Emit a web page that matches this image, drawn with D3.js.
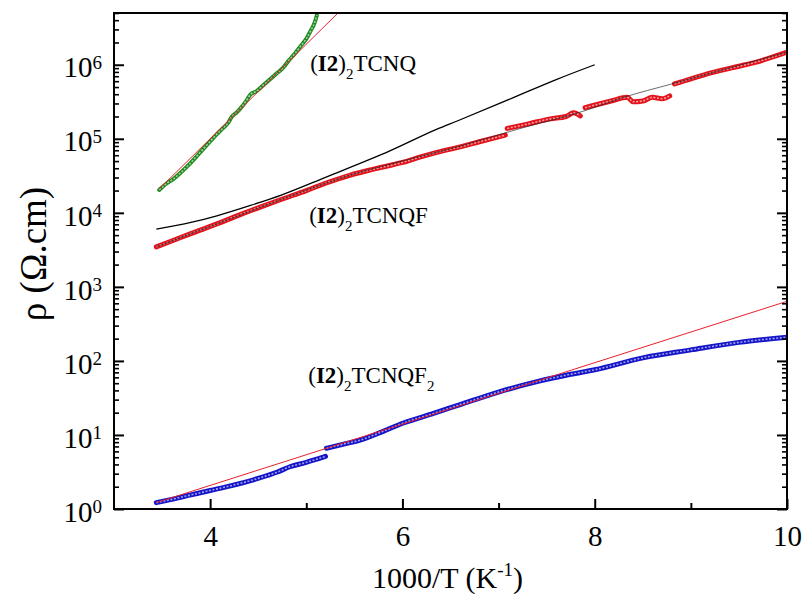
<!DOCTYPE html>
<html lang="en">
<head>
    <meta charset="UTF-8">
    <title>Resistivity vs 1000/T</title>
    <script src="https://cdnjs.cloudflare.com/ajax/libs/d3/7.8.5/d3.min.js"></script>
    <style>
    html, body {
        margin: 0;
        background: white;
    }
    svg text {
        font-family: 'Liberation Serif', 'Times New Roman', serif;
        fill: black;
    }
    </style>
</head>
<body>
    <div id="chart"></div>
    <script>
    // ---- data: [1000/T, rho (ohm.cm)] ----
    var greenData = [
        [3.47, 2.04e4], [3.55, 2.51e4], [3.62, 2.88e4], [3.70, 3.55e4], [3.78, 4.47e4],
        [3.85, 5.62e4], [3.92, 7.08e4], [3.99, 8.91e4], [4.06, 1.12e5], [4.13, 1.38e5],
        [4.19, 1.66e5], [4.22, 1.95e5], [4.28, 2.29e5], [4.34, 2.82e5], [4.38, 3.31e5],
        [4.42, 3.98e5], [4.48, 4.37e5], [4.55, 5.25e5], [4.62, 6.31e5], [4.69, 7.59e5],
        [4.76, 9.12e5], [4.82, 1.15e6], [4.88, 1.41e6], [4.94, 1.78e6], [5.00, 2.24e6],
        [5.05, 2.95e6], [5.09, 3.80e6], [5.11, 4.68e6]
    ];
    var greenFit = [[3.47, 2.1e4], [5.33, 5.0e6]];

    var redSeg1 = [
        [3.44, 3.47e3], [3.60, 4.17e3], [3.80, 5.25e3], [4.07, 7.08e3], [4.30, 9.33e3],
        [4.50, 1.17e4], [4.76, 1.55e4], [5.00, 2.0e4], [5.20, 2.51e4], [5.46, 3.24e4],
        [5.70, 3.89e4], [6.00, 4.79e4], [6.20, 5.75e4], [6.40, 6.76e4], [6.60, 7.76e4],
        [6.80, 9.12e4], [7.07, 1.12e5]
    ];
    var redSeg2 = [
        [7.09, 1.38e5], [7.30, 1.58e5], [7.54, 1.86e5], [7.70, 2.0e5], [7.78, 2.24e5], [7.85, 2.04e5]
    ];
    var redSeg3 = [
        [7.90, 2.63e5], [8.17, 3.24e5], [8.34, 3.63e5], [8.40, 3.16e5], [8.50, 3.24e5],
        [8.60, 3.63e5], [8.70, 3.47e5], [8.78, 3.80e5]
    ];
    var redSeg4 = [
        [8.83, 5.50e5], [9.00, 6.46e5], [9.24, 7.94e5], [9.50, 9.55e5], [9.66, 1.07e6], [10.0, 1.48e6]
    ];
    var redFitA = [
        [3.44, 6.03e3], [3.80, 7.41e3], [4.07, 9.12e3], [4.42, 1.26e4], [4.74, 1.74e4],
        [5.20, 3.02e4], [5.875, 6.92e4], [6.36, 1.35e5], [6.57, 1.74e5], [7.16, 3.63e5],
        [7.60, 6.31e5], [8.00, 1.0e6]
    ];
    var redFitB = [
        [3.44, 3.47e3], [4.07, 7.08e3], [4.76, 1.55e4], [5.46, 3.24e4], [6.00, 5.01e4],
        [6.60, 7.94e4], [7.20, 1.35e5], [7.90, 2.40e5], [8.30, 3.63e5], [8.80, 5.50e5],
        [10.0, 1.48e6]
    ];

    var blueSeg1 = [
        [3.44, 1.22], [3.60, 1.35], [3.80, 1.55], [4.00, 1.78], [4.20, 2.04],
        [4.49, 2.57], [4.70, 3.16], [4.83, 3.72], [5.00, 4.27], [5.20, 5.13]
    ];
    var blueSeg2 = [
        [5.21, 6.61], [5.40, 7.59], [5.56, 8.51], [5.80, 11.2], [6.01, 14.5],
        [6.30, 19.1], [6.60, 25.7], [7.00, 38.0], [7.40, 52.5], [7.75, 66.0],
        [8.00, 75.9], [8.50, 110], [9.00, 141], [9.50, 178], [10.0, 209]
    ];
    var blueFit = [[3.44, 1.22], [10.0, 638]];

    var xTicksMajor = [4, 6, 8, 10];
    var xTicksMinor = [5, 7, 9];
    var yTicksMajor = [1, 1e1, 1e2, 1e3, 1e4, 1e5, 1e6];
    var yTicksMinor = [];
    yTicksMajor.forEach(function(d){
        for (var k = 2; k <= 9; k++) {
            if (d * k <= 5e6) yTicksMinor.push(d * k);
        }
    });

    var compoundLabels = ['TCNQ', 'TCNQF', 'TCNQF'];

    // ---- layout ----
    var width = 811;
    var height = 594;

    var margin = {
        top: 13,
        bottom: 85,
        left: 114,
        right: 24
    };

    var svg = d3.select('#chart')
        .append('svg')
            .attr('width', width)
            .attr('height', height);

    var g = svg.append('g')
        .attr('transform', 'translate(' + margin.left + ',' + margin.top + ')');

    var w = width - margin.left - margin.right;
    var h = height - margin.top - margin.bottom;

    var x = d3.scaleLinear()
        .domain([3, 10])
        .range([0, w]);

    var y = d3.scaleLog()
        .domain([1, 5e6])
        .range([h, 0]);

    svg.append('defs').append('clipPath')
        .attr('id', 'plotclip')
        .append('rect')
            .attr('x', margin.left)
            .attr('y', margin.top)
            .attr('width', w)
            .attr('height', h);

    var line = d3.line()
        .x(function(d){ return x(d[0]); })
        .y(function(d){ return y(d[1]); });

    var smooth = d3.line()
        .curve(d3.curveMonotoneX)
        .x(function(d){ return x(d[0]); })
        .y(function(d){ return y(d[1]); });

    var plot = g.append('g')
        .attr('clip-path', 'url(#plotclip)')
        .attr('transform', 'translate(' + (-margin.left) + ',' + (-margin.top) + ')')
        .append('g')
            .attr('transform', 'translate(' + margin.left + ',' + margin.top + ')');

    // open-circle style band for measured points
    function drawSeries(segs, color, bandWidth) {
        segs.forEach(function(seg){
            plot.append('path')
                .datum(seg)
                .attr('fill', 'none')
                .attr('stroke', color)
                .attr('stroke-width', bandWidth)
                .attr('stroke-linecap', 'round')
                .attr('stroke-linejoin', 'round')
                .attr('d', smooth);
            plot.append('path')
                .datum(seg)
                .attr('fill', 'none')
                .attr('stroke', 'white')
                .attr('stroke-opacity', 0.6)
                .attr('stroke-width', 1.6)
                .attr('stroke-dasharray', '2 1.6')
                .attr('d', smooth);
        });
    }

    function drawFit(data, color, sw, op, gen) {
        plot.append('path')
            .datum(data)
            .attr('fill', 'none')
            .attr('stroke', color)
            .attr('stroke-width', sw)
            .attr('stroke-opacity', op)
            .attr('d', gen || line);
    }

    drawSeries([greenData], '#1f8a1f', 4);
    drawFit(greenFit, '#e8202a', 1, 1);

    drawFit(redFitA, 'black', 1.3, 1, smooth);
    drawSeries([redSeg1, redSeg2, redSeg3, redSeg4], '#e3121b', 5);
    drawFit(redFitB, '#222', 0.9, 0.75, smooth);

    drawSeries([blueSeg1, blueSeg2], '#1414c8', 5);
    drawFit(blueFit, '#e8202a', 1, 1);

    // ---- axes ----
    function styleAxis(sel, sw) {
        sel.select('.domain').remove();
        sel.selectAll('line').attr('stroke', 'black').attr('stroke-width', sw);
    }

    var yLeft = g.append('g')
        .call(d3.axisLeft(y).tickValues(yTicksMajor).tickSizeInner(-10).tickSizeOuter(0).tickPadding(12)
            .tickFormat(function(){ return '10'; }));
    styleAxis(yLeft, 2);
    yLeft.selectAll('text')
        .attr('font-size', 29)
        .attr('dy', '0.42em')
        .each(function(d){
            d3.select(this).append('tspan')
                .attr('dy', '-0.45em')
                .attr('font-size', 19)
                .text(Math.round(Math.log10(d)));
        });

    styleAxis(g.append('g')
        .call(d3.axisLeft(y).tickValues(yTicksMinor).tickSizeInner(-5).tickSizeOuter(0).tickFormat('')), 1.6);

    styleAxis(g.append('g')
        .attr('transform', 'translate(' + w + ',0)')
        .call(d3.axisRight(y).tickValues(yTicksMajor).tickSizeInner(-10).tickSizeOuter(0).tickFormat('')), 2);

    styleAxis(g.append('g')
        .attr('transform', 'translate(' + w + ',0)')
        .call(d3.axisRight(y).tickValues(yTicksMinor).tickSizeInner(-5).tickSizeOuter(0).tickFormat('')), 1.6);

    var xBottom = g.append('g')
        .attr('transform', 'translate(0,' + h + ')')
        .call(d3.axisBottom(x).tickValues(xTicksMajor).tickSizeInner(-10).tickSizeOuter(0).tickPadding(16)
            .tickFormat(d3.format('d')));
    styleAxis(xBottom, 2);
    xBottom.selectAll('text').attr('font-size', 29);

    styleAxis(g.append('g')
        .attr('transform', 'translate(0,' + h + ')')
        .call(d3.axisBottom(x).tickValues(xTicksMinor).tickSizeInner(-6).tickSizeOuter(0).tickFormat('')), 2);

    g.append('rect')
        .attr('width', w)
        .attr('height', h)
        .attr('fill', 'none')
        .attr('stroke', 'black')
        .attr('stroke-width', 2);

    // ---- axis titles ----
    var xTitle = svg.append('text')
        .attr('x', margin.left + w / 2 - 3)
        .attr('y', 588)
        .attr('text-anchor', 'middle')
        .attr('font-size', 30);
    xTitle.append('tspan').text('1000/T (K');
    xTitle.append('tspan').attr('font-size', 19).attr('dy', -12).text('-1');
    xTitle.append('tspan').attr('dy', 12).text(')');

    svg.append('text')
        .attr('transform', 'translate(46,' + 254 + ') rotate(-90)')
        .attr('text-anchor', 'middle')
        .attr('font-size', 37)
        .text('ρ (Ω.cm)');

    // ---- compound labels ----
    var labelPos = [
        { x: 5.04, y: 8.3e5, sub: false },
        { x: 5.03, y: 7.4e3, sub: false },
        { x: 5.02, y: 51, sub: true }
    ];

    labelPos.forEach(function(p, i){
        var t = g.append('text')
            .attr('x', x(p.x))
            .attr('y', y(p.y))
            .attr('font-size', 23);
        t.append('tspan').text('(');
        t.append('tspan').attr('font-weight', 'bold').text('I2');
        t.append('tspan').text(')');
        t.append('tspan').attr('font-size', 15).attr('dy', 8).text('2');
        t.append('tspan').attr('dy', -8).text(compoundLabels[i]);
        if (p.sub) {
            t.append('tspan').attr('font-size', 15).attr('dy', 8).text('2');
        }
    });
    </script>
</body>
</html>
